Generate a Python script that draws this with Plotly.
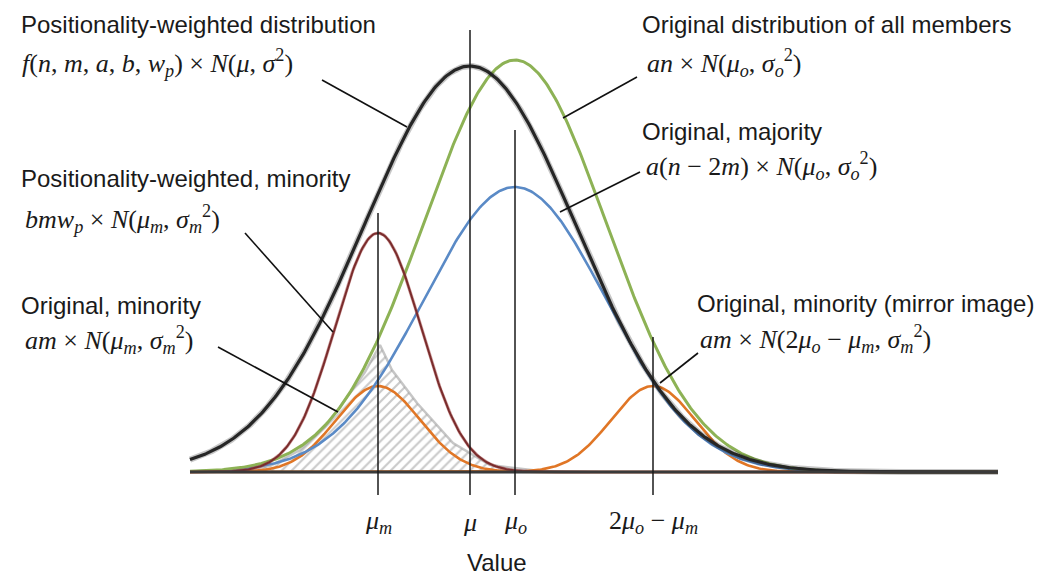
import numpy as np
import plotly.graph_objects as go

# ---- data (abstract value units; x = position along "Value", y = density height) ----
curve_names = ["Positionality-weighted distribution", "Original distribution of all members",
               "Original, majority", "Positionality-weighted, minority",
               "Original, minority", "Original, minority (mirror image)"]
curve_means = [4.70, 5.15, 5.15, 3.78, 3.78, 6.53]
curve_sigmas = [1.06, 0.91, 0.91, 0.43, 0.42, 0.42]
curve_peaks = [4.06, 4.12, 2.85, 2.39, 0.86, 0.86]
curve_colors = ["#262626", "#8db255", "#5a8ac6", "#7a2c2c", "#e07626", "#e07626"]
curve_widths = [3.2, 3.0, 2.6, 2.0, 2.6, 2.6]

# hatched area boundary
hatch_x = [2.30, 2.70, 3.00, 3.25, 3.45, 3.65, 3.80, 3.92, 4.17, 4.53, 4.90, 5.40, 5.90, 2.30]
hatch_y = [0.00, 0.06, 0.22, 0.45, 0.72, 1.00, 1.27, 1.02, 0.69, 0.29, 0.07, 0.01, 0.00, 0.00]

# reference marks on the value axis
mark_labels = ["<i>μ<sub>m</sub></i>", "<i>μ</i>", "<i>μ<sub>o</sub></i>",
               "2<i>μ<sub>o</sub></i> − <i>μ<sub>m</sub></i>"]
mark_values = [3.78, 4.70, 5.15, 6.53]
mark_tops = [2.59, 4.42, 3.42, 1.35]
axis_start, axis_end = 1.90, 9.98

fig = go.Figure()

# hatched area
fig.add_trace(go.Scatter(x=hatch_x, y=hatch_y, mode="lines", fill="toself",
                         line=dict(color="rgba(160,160,160,0.6)", width=2.5),
                         fillcolor="rgba(255,255,255,0)",
                         fillpattern=dict(shape="/", fgcolor="#949494", bgcolor="white",
                                          size=7, solidity=0.3),
                         hoverinfo="skip", showlegend=False))

xs = np.linspace(axis_start, axis_end, 600)
order = [4, 5, 2, 1, 3, 0]
for i in order:
    ys = curve_peaks[i] * np.exp(-0.5 * ((xs - curve_means[i]) / curve_sigmas[i]) ** 2)
    if i == 0:
        fig.add_trace(go.Scatter(x=xs, y=ys, mode="lines",
                                 line=dict(color="rgba(0,0,0,0.22)", width=6),
                                 hoverinfo="skip", showlegend=False))
    if i == 3:
        fig.add_trace(go.Scatter(x=xs, y=ys, mode="lines",
                                 line=dict(color="rgba(160,60,60,0.5)", width=3.2),
                                 hoverinfo="skip", showlegend=False))
    fig.add_trace(go.Scatter(x=xs, y=ys, mode="lines", name=curve_names[i],
                             line=dict(color=curve_colors[i], width=curve_widths[i]),
                             showlegend=False))

# baseline
fig.add_trace(go.Scatter(x=[axis_start, axis_end], y=[0, 0], mode="lines",
                         line=dict(color="#3a3a3a", width=3.2), hoverinfo="skip", showlegend=False))

# vertical reference lines
for v, top in zip(mark_values, mark_tops):
    fig.add_trace(go.Scatter(x=[v, v], y=[-0.23, top], mode="lines",
                             line=dict(color="#1a1a1a", width=1.5), hoverinfo="skip", showlegend=False))

SANS = "Liberation Sans, Arial, sans-serif"
SERIF = "Liberation Serif, Times New Roman, serif"
TXT = "#1a1a1a"
SANS_SIZE = 24
MATH_SIZE = 26

def label(px, py, text, font, size):
    fig.add_annotation(x=px / 1040, y=1 - py / 575, xref="paper", yref="paper",
                       text=text, showarrow=False, xanchor="left", yanchor="middle",
                       font=dict(family=font, size=size, color=TXT))

label(19, 24, "Positionality-weighted distribution", SANS, SANS_SIZE)
label(20, 63, "<i>f</i>(<i>n</i>, <i>m</i>, <i>a</i>, <i>b</i>, <i>w<sub>p</sub></i>) × <i>N</i>(<i>μ</i>, <i>σ</i><sup>2</sup>)", SERIF, MATH_SIZE)
label(640, 24, "Original distribution of all members", SANS, SANS_SIZE)
label(645, 63, "<i>an</i> × <i>N</i>(<i>μ<sub>o</sub></i>, <i>σ<sub>o</sub></i><sup>2</sup>)", SERIF, MATH_SIZE)
label(640, 131, "Original, majority", SANS, SANS_SIZE)
label(644, 166, "<i>a</i>(<i>n</i> − 2<i>m</i>) × <i>N</i>(<i>μ<sub>o</sub></i>, <i>σ<sub>o</sub></i><sup>2</sup>)", SERIF, MATH_SIZE)
label(19, 178, "Positionality-weighted, minority", SANS, SANS_SIZE)
label(23, 219, "<i>bmw<sub>p</sub></i> × <i>N</i>(<i>μ<sub>m</sub></i>, <i>σ<sub>m</sub></i><sup>2</sup>)", SERIF, MATH_SIZE)
label(19, 305, "Original, minority", SANS, SANS_SIZE)
label(23, 340, "<i>am</i> × <i>N</i>(<i>μ<sub>m</sub></i>, <i>σ<sub>m</sub></i><sup>2</sup>)", SERIF, MATH_SIZE)
label(695, 303, "Original, minority (mirror image)", SANS, SANS_SIZE)
label(698, 339, "<i>am</i> × <i>N</i>(2<i>μ<sub>o</sub></i> − <i>μ<sub>m</sub></i>, <i>σ<sub>m</sub></i><sup>2</sup>)", SERIF, MATH_SIZE)

# tick labels and axis title
for v, t in zip(mark_values, mark_labels):
    fig.add_annotation(x=v, y=-0.50, text=t, showarrow=False, xanchor="center", yanchor="middle",
                       font=dict(family=SERIF, size=MATH_SIZE, color=TXT))
fig.add_annotation(x=4.97, y=-0.90, text="Value", showarrow=False, xanchor="center", yanchor="middle",
                   font=dict(family=SANS, size=SANS_SIZE, color=TXT))

# leader lines (pixel coordinates of the picture)
leaders = [((322, 80), (407, 127)), ((637, 77), (563, 118)), ((640, 172), (560, 212)),
           ((245, 233), (333, 332)), ((218, 347), (338, 412)), ((698, 353), (660, 383))]
for (x0, y0), (x1, y1) in leaders:
    fig.add_shape(type="line", xref="paper", yref="paper",
                  x0=x0 / 1040, y0=1 - y0 / 575, x1=x1 / 1040, y1=1 - y1 / 575,
                  line=dict(color="#111111", width=1.6))

fig.update_layout(width=1040, height=575, margin=dict(l=0, r=0, t=0, b=0),
                  plot_bgcolor="white", paper_bgcolor="white",
                  xaxis=dict(range=[0, 10.4], visible=False, fixedrange=True),
                  yaxis=dict(range=[-1.03, 4.72], visible=False, fixedrange=True))

fig.write_html("out.html", config={"displayModeBar": False},
               post_script="document.body.style.margin='0';")
